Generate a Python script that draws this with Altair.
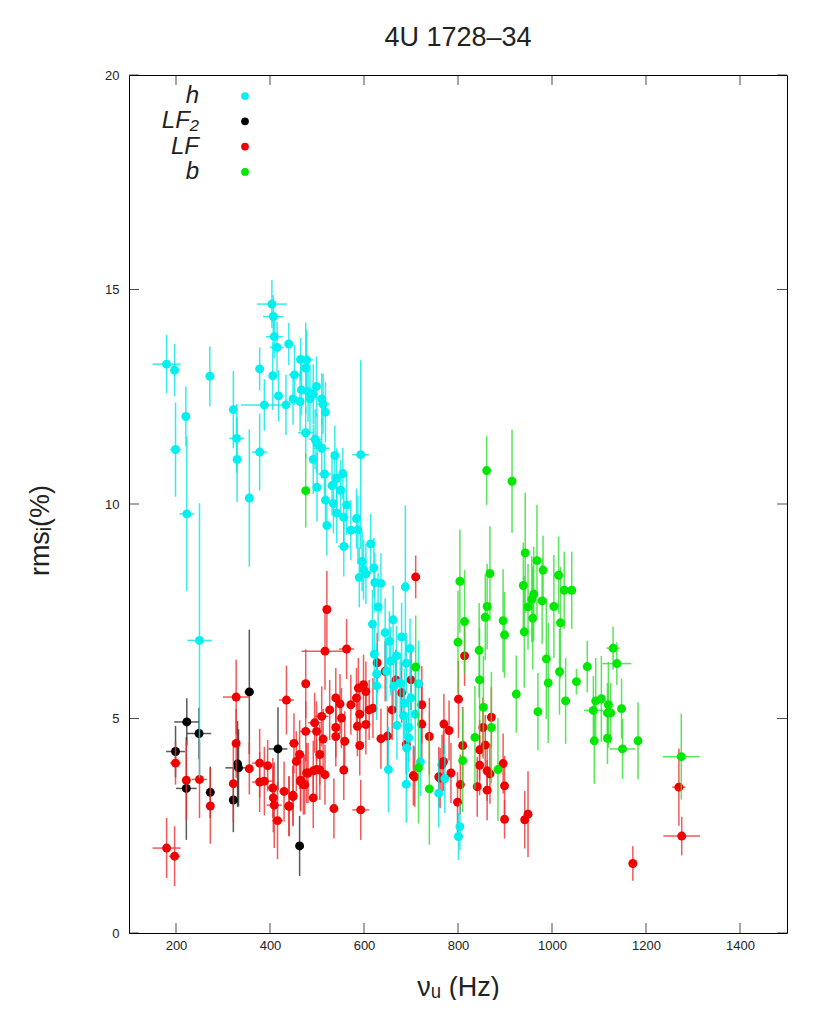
import altair as alt
import pandas as pd

# ---------------- data ----------------
# h (cyan)
h_nu = [180, 197, 221, 199, 223, 272, 322, 329, 330, 356, 378, 378, 388, 404, 407, 409, 415, 406, 418, 440,
        434, 449, 452, 465, 478, 476, 464, 467, 481, 485, 492, 499, 510, 513, 518, 476, 496, 500, 510, 492,
        538, 593, 516, 555, 542, 500, 532, 550, 518, 535, 563, 542, 557, 521, 584, 572, 587, 557, 614, 596,
        599, 590, 604, 621, 623, 636, 688, 630, 618, 645, 662, 680, 622, 654, 657, 669, 698, 690, 627, 627,
        648, 663, 677, 716, 686, 700, 684, 709, 670, 695, 695, 691, 720, 652, 690, 772, 759, 804, 801, 250]
h_rms = [13.26, 13.12, 12.04, 11.27, 9.77, 12.98, 12.20, 11.53, 11.04, 10.14, 13.15, 11.21, 12.31, 14.66, 14.37,
         13.90, 13.65, 12.99, 12.52, 13.73, 12.31, 12.45, 13.01, 13.37, 13.36, 13.17, 12.39, 12.66, 12.62, 12.45,
         12.56, 12.74, 12.45, 12.33, 12.14, 11.66, 11.51, 11.42, 11.30, 11.04, 11.13, 11.15, 10.70, 10.71, 10.60,
         10.39, 10.43, 10.32, 10.09, 10.01, 9.98, 9.79, 9.69, 9.50, 9.66, 9.39, 9.40, 9.01, 9.07, 8.66,
         8.47, 8.29, 8.37, 8.51, 8.17, 8.15, 8.07, 7.60, 7.20, 7.00, 7.30, 6.90, 6.50, 6.80, 6.34,
         6.46, 6.63, 6.29, 6.04, 5.76, 6.10, 5.75, 5.83, 5.81, 5.36, 5.48, 5.07, 5.10, 4.84, 4.79,
         4.55, 4.31, 3.99, 3.81, 3.47, 3.60, 3.26, 2.48, 2.25, 6.82]
h_xerr = [30, 8, 5, 12, 16, 4, 6, 16, 5, 6, 4, 16, 50, 32, 22, 18, 15, 5, 8, 8,
          8, 6, 12, 8, 14, 6, 6, 5, 6, 8, 6, 6, 6, 14, 6, 16, 14, 8, 16, 6,
          6, 18, 14, 6, 8, 8, 6, 6, 6, 8, 6, 6, 6, 6, 6, 6, 6, 12, 6, 6,
          6, 6, 8, 6, 6, 6, 8, 6, 6, 6, 6, 6, 6, 6, 6, 6, 6, 6, 6, 6,
          6, 6, 6, 6, 6, 6, 6, 6, 6, 6, 6, 6, 6, 8, 6, 6, 6, 6, 6, 26]
h_yerr = [0.68, 0.61, 0.7, 1.1, 1.8, 0.7, 0.9, 0.8, 1.0, 1.6, 0.5, 0.9, 0.6, 0.56, 0.5, 0.5, 0.6, 0.8, 0.6, 0.49,
          0.7, 0.6, 0.7, 0.5, 0.7, 1.06, 0.7, 0.6, 0.7, 0.8, 0.7, 0.7, 0.6, 0.7, 0.7, 0.6, 0.7, 0.7, 0.7, 0.8,
          0.7, 2.2, 0.7, 0.6, 0.7, 0.8, 0.7, 0.7, 0.7, 0.7, 0.7, 0.7, 0.7, 0.7, 0.7, 0.7, 0.8, 0.7, 0.7, 0.7,
          0.7, 0.7, 0.7, 0.7, 0.7, 0.7, 1.9, 0.8, 0.8, 0.8, 0.8, 0.8, 0.7, 0.7, 0.8, 0.7, 0.7, 0.7, 0.7, 0.8,
          0.7, 0.8, 0.7, 1.0, 0.8, 0.7, 0.8, 1.0, 0.8, 0.8, 0.8, 0.8, 0.8, 1.0, 0.9, 0.8, 0.8, 0.55, 0.55, 3.2]

# LF2 (black)
lf2_nu = [199, 223, 249, 222, 273, 331, 333, 322, 356, 417, 463]
lf2_rms = [4.23, 4.92, 4.65, 3.37, 3.28, 3.94, 3.85, 3.10, 5.62, 4.29, 2.03]
lf2_xerr = [20, 27, 26, 22, 6, 8, 28, 8, 10, 20, 5]
lf2_yerr = [0.6, 0.55, 0.6, 1.2, 0.6, 1.0, 0.9, 0.75, 1.45, 0.97, 0.7]

# LF (red)
lf_nu = [180, 197, 199, 222, 250, 273, 328, 328, 322, 356, 378, 378, 388, 406, 407, 409, 416, 435, 451, 463,
         440, 449, 465, 476, 476, 492, 495, 510, 517, 506, 478, 492, 506, 471, 521, 563, 710, 540, 549, 527,
         572, 588, 599, 604, 584, 591, 611, 619, 499, 513, 540, 552, 540, 559, 586, 604, 591, 636, 650, 557,
         465, 481, 499, 517, 474, 449, 441, 536, 593, 705, 723, 723, 770, 781, 785, 766, 762, 814, 801, 739,
         810, 871, 853, 858, 846, 846, 862, 868, 841, 862, 896, 899, 899, 942, 949, 1172, 1270, 1276, 769, 759,
         805, 799, 708, 628, 645, 668, 680, 700, 660, 690, 456, 430, 395]
lf_rms = [1.98, 1.79, 3.96, 3.56, 3.58, 2.96, 5.50, 4.42, 3.48, 3.83, 3.96, 3.52, 3.54, 3.38, 3.15, 2.98, 2.62,
          5.43, 4.42, 4.16, 2.96, 3.18, 3.56, 5.81, 4.70, 3.15, 4.90, 5.05, 6.57, 4.16, 3.73, 3.78, 3.80, 3.46,
          7.54, 6.62, 8.30, 5.48, 5.34, 5.20, 5.32, 5.71, 5.79, 5.63, 5.48, 5.10, 5.20, 5.24, 4.70, 4.52,
          4.79, 5.01, 4.58, 4.47, 4.82, 4.86, 4.37, 4.53, 4.59, 3.80, 3.53, 3.73, 3.81, 3.69, 3.46, 3.21,
          2.95, 2.90, 2.87, 3.67, 5.32, 4.87, 4.87, 4.72, 3.73, 3.92, 3.61, 6.46, 5.45, 4.58, 4.37, 5.03,
          4.79, 4.38, 4.27, 3.91, 3.78, 3.71, 3.41, 3.33, 3.95, 3.43, 2.65, 2.64, 2.77, 1.62, 3.40, 2.26,
          4.00, 3.64, 3.46, 3.05, 3.64, 6.30, 6.10, 5.90, 5.60, 5.90, 5.20, 4.40, 4.00, 3.30, 3.90]
lf_xerr = [30, 12, 12, 8, 16, 5, 28, 8, 6, 6, 16, 16, 18, 12, 8, 16, 12, 16, 10, 6,
           10, 6, 8, 5, 12, 6, 14, 14, 50, 6, 6, 6, 6, 6, 6, 16, 4, 8, 6, 6,
           6, 6, 6, 6, 6, 6, 6, 6, 6, 6, 6, 6, 6, 6, 6, 6, 6, 6, 6, 6,
           6, 6, 6, 6, 6, 6, 6, 8, 18, 6, 6, 6, 6, 6, 6, 6, 6, 6, 6, 6,
           6, 6, 6, 6, 6, 6, 6, 6, 6, 6, 6, 6, 6, 6, 6, 6, 14, 39, 6, 6,
           6, 6, 6, 6, 6, 6, 6, 6, 6, 6, 6, 10, 8]
lf_yerr = [0.7, 0.7, 0.5, 0.93, 0.9, 0.88, 0.87, 0.8, 0.9, 0.6, 0.8, 0.7, 0.8, 0.7, 0.8, 1.0, 0.9, 0.8, 0.7, 0.8,
           0.7, 0.7, 0.7, 0.8, 0.7, 0.7, 0.7, 0.7, 0.9, 0.7, 0.7, 0.7, 0.7, 0.7, 0.9, 0.7, 0.5, 0.7, 0.7, 0.7,
           0.7, 0.7, 0.7, 0.7, 0.7, 0.7, 0.7, 0.7, 0.7, 0.7, 0.7, 0.7, 0.7, 0.7, 0.7, 0.7, 0.7, 0.7, 0.7, 0.7,
           0.7, 0.7, 0.7, 0.7, 0.7, 0.7, 0.7, 0.7, 0.7, 0.7, 0.9, 0.9, 0.7, 0.7, 0.7, 0.7, 0.7, 0.7, 0.9, 0.9,
           0.9, 0.7, 0.7, 0.7, 0.7, 0.7, 0.7, 0.7, 0.7, 0.7, 0.7, 0.7, 0.45, 0.67, 1.0, 0.4, 0.9, 0.45, 0.7, 0.7,
           0.7, 0.7, 0.7, 0.7, 0.7, 0.7, 0.7, 0.7, 0.7, 0.7, 0.7, 0.7, 0.6]

# b (green)
b_nu = [476, 861, 915, 804, 814, 800, 845, 868, 862, 858, 896, 899, 943, 968, 981, 939, 961, 957, 949, 979,
        959, 1004, 1014, 1026, 1042, 1018, 941, 988, 1130, 1138, 1075, 846, 854, 871, 885, 924, 992, 970, 1016, 1029,
        1052, 1093, 1105, 1120, 1088, 1118, 1125, 1148, 1090, 1118, 1150, 1183, 1275, 836, 810, 716, 739, 710]
b_rms = [10.31, 10.78, 10.53, 8.20, 7.26, 6.78, 6.59, 8.38, 7.61, 7.36, 7.28, 6.95, 8.86, 8.68, 8.46, 8.10,
         7.90, 7.78, 7.60, 7.74, 7.34, 7.61, 8.34, 7.99, 7.99, 7.23, 7.02, 6.39, 6.64, 6.28, 6.21, 5.90,
         5.26, 4.79, 3.81, 5.57, 5.83, 5.16, 6.09, 5.41, 5.86, 5.41, 5.46, 5.32, 5.19, 5.13, 5.13, 5.23,
         4.48, 4.54, 4.29, 4.48, 4.11, 4.56, 4.02, 3.85, 3.36, 6.20]
b_xerr = [4, 4, 8, 4, 4, 4, 4, 4, 4, 4, 4, 4, 4, 4, 4, 4, 4, 4, 4, 4,
          4, 4, 10, 4, 4, 4, 4, 4, 14, 31, 4, 4, 4, 4, 4, 4, 4, 4, 4, 4,
          4, 4, 4, 4, 20, 4, 4, 4, 4, 4, 28, 4, 39, 4, 4, 4, 4, 4]
b_yerr = [0.86, 0.8, 1.2, 1.2, 1.2, 1.2, 1.1, 1.1, 1.0, 1.0, 1.2, 1.0, 1.4, 1.3, 0.8, 1.0, 1.1, 1.0, 1.0, 1.0,
          1.2, 1.2, 0.9, 0.9, 0.9, 1.3, 1.3, 1.4, 0.5, 0.5, 0.6, 1.2, 1.2, 1.3, 1.2, 0.9, 1.4, 0.9, 1.0, 1.0,
          0.3, 1.0, 1.0, 1.0, 0.8, 0.7, 0.7, 0.7, 1.0, 0.6, 0.7, 0.9, 1.0, 1.2, 1.2, 1.3, 1.3, 1.2]

series_order = ["h", "LF₂", "LF", "b"]
point_colors = {"h": "#00efef", "LF₂": "#000000", "LF": "#f00000", "b": "#00e800"}
bar_colors = {"h": "#00e8e8", "LF₂": "#303030", "LF": "#f03030", "b": "#30e030"}

x_ticks = [200, 400, 600, 800, 1000, 1200, 1400]
y_ticks = [0, 5, 10, 15, 20]

W, H = 658, 858
FONT = "Liberation Sans"

xs = alt.Scale(domain=[100, 1500], nice=False, zero=False)
ys = alt.Scale(domain=[0, 20], nice=False, zero=False)

x_axis = alt.Axis(values=x_ticks, format="d", title="νᵤ (Hz)", titleFont=FONT, titleFontSize=27,
                  titleFontWeight="normal", titleColor="#222", titlePadding=22,
                  labelFont=FONT, labelFontSize=13, labelColor="#222", labelPadding=6,
                  ticks=False, domain=False, grid=False)
y_axis = alt.Axis(values=y_ticks, format="d", title="rmsᵢ(%)", titleFont=FONT, titleFontSize=27,
                  titleFontWeight="normal", titleColor="#222", titlePadding=50, titleY=455,
                  labelFont=FONT, labelFontSize=13, labelColor="#222", labelPadding=10,
                  ticks=False, domain=False, grid=False)


def frame(nu, rms, xe, ye, name):
    df = pd.DataFrame({"nu": nu, "rms": rms, "xe": xe, "ye": ye})
    df["series"] = name
    df["x_lo"] = df["nu"] - df["xe"]
    df["x_hi"] = df["nu"] + df["xe"]
    df["y_lo"] = df["rms"] - df["ye"]
    df["y_hi"] = df["rms"] + df["ye"]
    return df


def series_layers(df, name):
    base = alt.Chart(df)
    vbar = base.mark_rule(strokeWidth=1.5, opacity=0.8, clip=True).encode(
        x=alt.X("nu:Q", scale=xs, axis=x_axis),
        y=alt.Y("y_lo:Q", scale=ys, axis=y_axis),
        y2="y_hi:Q",
        color=alt.value(bar_colors[name]),
    )
    hbar = base.mark_rule(strokeWidth=1.5, opacity=0.8, clip=True).encode(
        x=alt.X("x_lo:Q", scale=xs, axis=x_axis),
        x2="x_hi:Q",
        y=alt.Y("rms:Q", scale=ys, axis=y_axis),
        color=alt.value(bar_colors[name]),
    )
    pts = base.mark_circle(size=80, opacity=1, clip=True).encode(
        x=alt.X("nu:Q", scale=xs, axis=x_axis),
        y=alt.Y("rms:Q", scale=ys, axis=y_axis),
        color=alt.value(point_colors[name]),
    )
    return [vbar, hbar, pts]


frames = {
    "h": frame(h_nu, h_rms, h_xerr, h_yerr, "h"),
    "LF₂": frame(lf2_nu, lf2_rms, lf2_xerr, lf2_yerr, "LF₂"),
    "LF": frame(lf_nu, lf_rms, lf_xerr, lf_yerr, "LF"),
    "b": frame(b_nu, b_rms, b_xerr, b_yerr, "b"),
}

layers = []
for n in ["LF₂", "LF", "h", "b"]:
    layers += series_layers(frames[n], n)

# legend (labels on the left, dots on the right, top-left inside the frame)
for i, n in enumerate(series_order):
    ld = pd.DataFrame({"label": [n]})
    ypos = 21 + 25.3 * i
    layers.append(alt.Chart(ld).mark_text(align="right", baseline="middle", font=FONT,
                                          fontStyle="italic", fontSize=24, color="#222").encode(
        text="label:N", x=alt.value(70), y=alt.value(ypos)))
    layers.append(alt.Chart(ld).mark_circle(size=60, opacity=1).encode(
        x=alt.value(116), y=alt.value(ypos), color=alt.value(point_colors[n])))

# inward ticks on all four sides
xt = pd.DataFrame({"v": x_ticks})
yt = pd.DataFrame({"v": y_ticks})
tick_style = dict(size=10, thickness=1, color="black")
bottom_t = alt.Chart(xt).mark_tick(orient="vertical", **tick_style).encode(
    x=alt.X("v:Q", scale=xs, axis=x_axis), y=alt.value(H - 5))
top_t = alt.Chart(xt).mark_tick(orient="vertical", **tick_style).encode(
    x=alt.X("v:Q", scale=xs, axis=x_axis), y=alt.value(5))
left_t = alt.Chart(yt).mark_tick(orient="horizontal", **tick_style).encode(
    y=alt.Y("v:Q", scale=ys, axis=y_axis), x=alt.value(5))
right_t = alt.Chart(yt).mark_tick(orient="horizontal", **tick_style).encode(
    y=alt.Y("v:Q", scale=ys, axis=y_axis), x=alt.value(W - 5))

chart = alt.layer(*layers, bottom_t, top_t, left_t, right_t).properties(
    width=W, height=H,
    padding={"left": 18, "top": 16, "right": 5, "bottom": 0},
    title=alt.Title("4U 1728–34", font=FONT, fontSize=27, fontWeight="normal",
                    color="#222", offset=17, frame="group", anchor="middle"),
).configure_view(stroke="black", strokeWidth=1)

chart.save("out.html", embed_options={"renderer": "svg", "actions": False})
